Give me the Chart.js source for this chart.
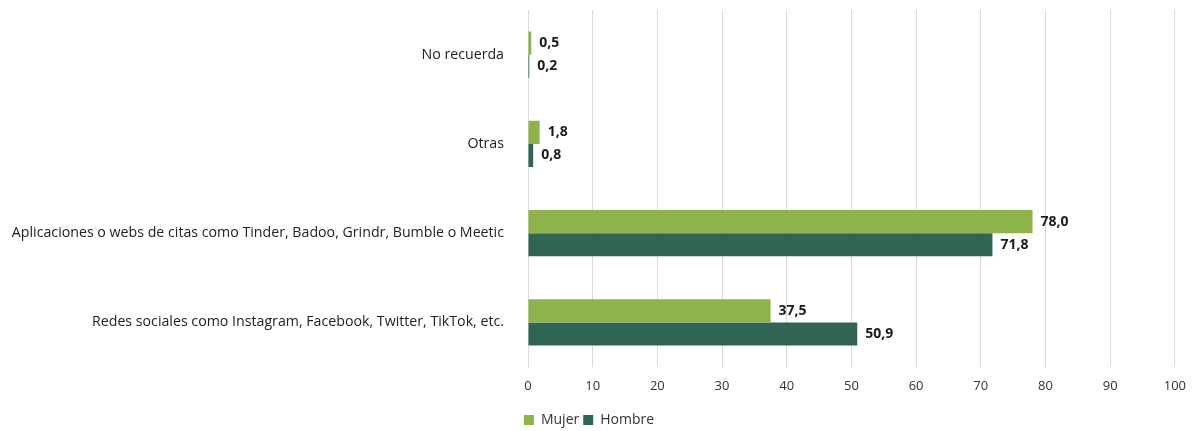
<!DOCTYPE html>
<html>
<head>
<meta charset="utf-8">
<script src="https://cdn.jsdelivr.net/npm/chart.js@4/dist/chart.umd.min.js"></script>
<style>
  html, body { margin: 0; padding: 0; background: #fff; }
  #wrap { width: 1197px; height: 431px; position: relative; }
</style>
</head>
<body>
<div id="wrap"><canvas id="chart"></canvas></div>
<script>
const categories = [
  'No recuerda',
  'Otras',
  'Aplicaciones o webs de citas como Tinder, Badoo, Grindr, Bumble o Meetic',
  'Redes sociales como Instagram, Facebook, Twitter, TikTok, etc.'
];
const mujer = [0.5, 1.8, 78.0, 37.5];
const hombre = [0.2, 0.8, 71.8, 50.9];
const xTicks = [0, 10, 20, 30, 40, 50, 60, 70, 80, 90, 100];

const FONT = '"Open Sans", "Liberation Sans", sans-serif';

const valueLabels = {
  id: 'valueLabels',
  afterDatasetsDraw(chart) {
    const ctx = chart.ctx;
    ctx.save();
    ctx.font = 'bold 14px ' + FONT;
    ctx.fillStyle = '#1a1a1a';
    ctx.textBaseline = 'middle';
    ctx.textAlign = 'left';
    chart.data.datasets.forEach((ds, i) => {
      chart.getDatasetMeta(i).data.forEach((bar, j) => {
        const txt = ds.data[j].toFixed(1).replace('.', ',');
        ctx.fillText(txt, bar.x + 8, bar.y);
      });
    });
    ctx.restore();
  }
};

const ctx = document.getElementById('chart').getContext('2d');
new Chart(ctx, {
  type: 'bar',
  data: {
    labels: categories,
    datasets: [
      { label: 'Mujer', data: mujer, backgroundColor: '#8db34a', categoryPercentage: 0.52, barPercentage: 1 },
      { label: 'Hombre', data: hombre, backgroundColor: '#306455', categoryPercentage: 0.52, barPercentage: 1 }
    ]
  },
  options: {
    indexAxis: 'y',
    responsive: true, maintainAspectRatio: false,
    animation: false,
    layout: { padding: { top: 10, right: 19, left: 0, bottom: -6 } },
    plugins: {
      legend: {
        position: 'bottom',
        labels: { boxWidth: 10, boxHeight: 10, color: '#333', font: { family: FONT, size: 14 }, padding: 4 }
      },
      tooltip: { enabled: false }
    },
    scales: {
      x: {
        min: 0, max: 100,
        afterBuildTicks: s => { s.ticks = xTicks.map(v => ({ value: v })); },
        afterFit: s => { s.height = 42; },
        ticks: { color: '#333', font: { family: FONT, size: 13 }, padding: 11 },
        grid: { color: '#d9d9d9', drawTicks: false },
        border: { display: false }
      },
      y: {
        afterFit: s => { s.width = 528; s.paddingTop = 0; s.paddingBottom = 0; },
        ticks: { color: '#222', font: { family: FONT, size: 14.2 }, padding: 16 },
        grid: { display: false },
        border: { display: true, color: '#d9d9d9' }
      }
    }
  },
  plugins: [valueLabels]
});
</script>
</body>
</html>
